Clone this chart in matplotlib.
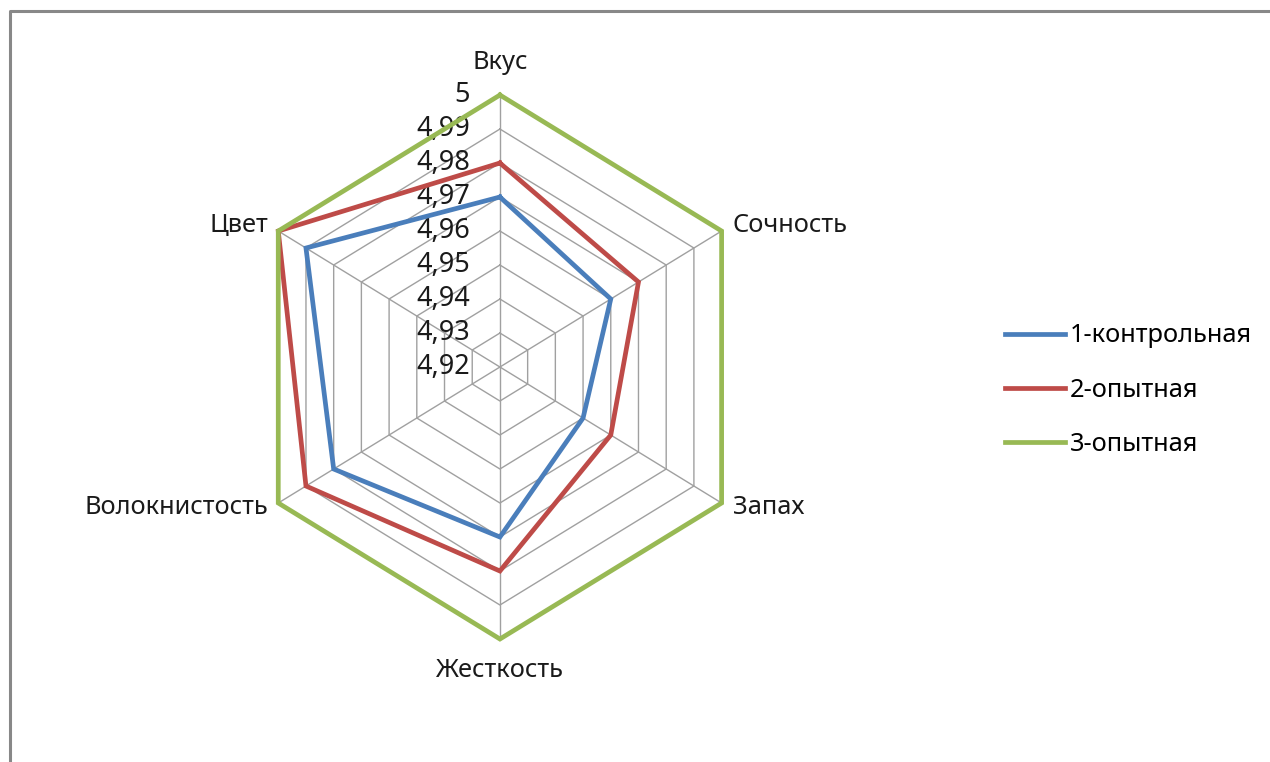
import numpy as np
import matplotlib
matplotlib.use("Agg")
import matplotlib.pyplot as plt
from matplotlib.lines import Line2D

plt.rcParams['font.family'] = ['Noto Sans', 'DejaVu Sans']

categories = ["Вкус", "Сочность", "Запах", "Жесткость", "Волокнистость", "Цвет"]
series_names = ["1-контрольная", "2-опытная", "3-опытная"]
control = [4.97, 4.96, 4.95, 4.97, 4.98, 4.99]
exp2 = [4.98, 4.97, 4.96, 4.98, 4.99, 5.00]
exp3 = [5.00, 5.00, 5.00, 5.00, 5.00, 5.00]
levels = [4.92, 4.93, 4.94, 4.95, 4.96, 4.97, 4.98, 4.99, 5.00]

colors = ["#4A7EBB", "#BE4B48", "#98B954"]

fig = plt.figure(figsize=(12.7, 7.62), dpi=100)

# chart area border (only top and left visible, as in the cropped screenshot)
fig.add_artist(Line2D([0.0075, 0.0075, 1.0], [0.0, 0.986, 0.986], color="#888888", lw=2.2))

ax = fig.add_axes([0.1921, 0.1614, 0.4031, 0.7139], projection="polar")
ax.set_aspect("auto")
ax.set_theta_zero_location("N")
ax.set_theta_direction(-1)
ax.set_ylim(levels[0], levels[-1])
ax.grid(False)
ax.set_xticks([])
ax.set_yticks([])
ax.spines["polar"].set_visible(False)
ax.patch.set_visible(False)

n = len(categories)
angles = np.linspace(0, 2 * np.pi, n, endpoint=False)
closed = np.append(angles, angles[0])

# hexagonal grid
for lv in levels[1:]:
    ax.plot(closed, [lv] * (n + 1), color="#A0A0A0", lw=1, clip_on=False, zorder=1)
for a in angles:
    ax.plot([a, a], [levels[0], levels[-1]], color="#A0A0A0", lw=1, clip_on=False, zorder=1)

# radial value labels
for lv in levels:
    txt = f"{lv:g}".replace(".", ",")
    ax.annotate(txt, xy=(0, lv), xytext=(-30, 0), textcoords="offset pixels",
                ha="right", va="center", fontsize=19.5, color="#1a1a1a")

# series
for vals, name, c in zip([control, exp2, exp3], series_names, colors):
    ax.plot(closed, vals + vals[:1], color=c, lw=3.4, label=name, clip_on=False,
            solid_joinstyle="miter", zorder=3)

# category labels
offsets = [((0, 33), "center"), ((11, 6), "left"), ((11, -4), "left"),
           ((0, -31), "center"), ((-10, -4), "right"), ((-10, 6), "right")]
for a, lab, (off, ha) in zip(angles, categories, offsets):
    ax.annotate(lab, xy=(a, levels[-1]), xytext=off, textcoords="offset pixels",
                ha=ha, va="center", fontsize=18.3, color="#1a1a1a")

leg = fig.legend(loc="center left", bbox_to_anchor=(0.773, 0.488), frameon=False,
                 fontsize=18.3, handlelength=2.36, handletextpad=0.2, labelspacing=1.15)

fig.savefig("out.png", dpi=100, facecolor="white")
